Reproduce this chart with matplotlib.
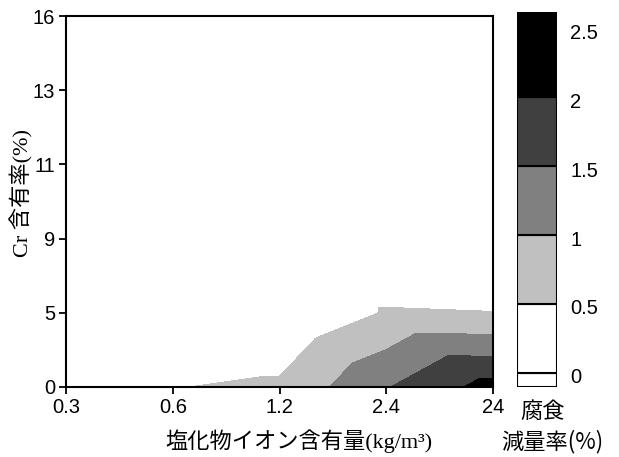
import matplotlib
matplotlib.use('Agg')
import matplotlib.pyplot as plt
import matplotlib.tri as mtri
import matplotlib.transforms as mtransforms
from matplotlib.patches import Rectangle
import numpy as np

# ---- data ----
x_labels = ['0.3', '0.6', '1.2', '2.4', '24']          # chloride content (kg/m3)
y_labels = ['0', '5', '9', '11', '13', '16']           # Cr content (%)
# corrosion weight-loss rate (%) for each Cr row, along chloride categories
z_cr0 = [0.20, 0.485, 0.584, 1.47, 2.20]
z_cr5 = [0.00, 0.00, 0.00, 0.54, 0.51]
z_cr9 = [0.00, 0.00, 0.00, 0.00, 0.00]
z_cr11 = [0.00, 0.00, 0.00, 0.00, 0.00]
z_cr13 = [0.00, 0.00, 0.00, 0.00, 0.00]
z_cr16 = [0.00, 0.00, 0.00, 0.00, 0.00]
levels = [0, 0.5, 1.0, 1.5, 2.0, 2.5]
level_labels = ['0', '0.5', '1', '1.5', '2', '2.5']
band_colors = ['#FFFFFF', '#C0C0C0', '#808080', '#404040', '#000000']

Z = np.array([z_cr0, z_cr5, z_cr9, z_cr11, z_cr13, z_cr16])
ny, nx = Z.shape

# grid triangulation (each cell split along its anti-diagonal)
xs, ys = np.meshgrid(np.arange(nx), np.arange(ny))
xs = xs.ravel().astype(float)
ys = ys.ravel().astype(float)
def idx(i, j):
    return j * nx + i
tris = []
for j in range(ny - 1):
    for i in range(nx - 1):
        tris.append([idx(i, j), idx(i + 1, j), idx(i, j + 1)])
        tris.append([idx(i + 1, j), idx(i + 1, j + 1), idx(i, j + 1)])
tri = mtri.Triangulation(xs, ys, np.array(tris))

fig = plt.figure(figsize=(6.19, 4.57), dpi=100)
W, H = 619, 457
ax = fig.add_axes([66 / W, 1 - 387 / H, (493 - 66) / W, (387 - 16) / H])
ax.tricontourf(tri, Z.ravel(), levels=levels, colors=band_colors, antialiased=False)
ax.set_xlim(0, nx - 1)
ax.set_ylim(0, ny - 1)
ax.set_xticks(np.arange(nx))
ax.set_xticklabels(x_labels)
ax.set_yticks(np.arange(ny))
ax.set_yticklabels(y_labels)
for s in ax.spines.values():
    s.set_linewidth(1.5)
    s.set_zorder(5)
ax.tick_params(direction='out', length=5, width=1.3, labelsize=14.5, pad=3)
for lab in ax.get_xticklabels() + ax.get_yticklabels():
    lab.set_family('Liberation Sans')

# axis labels
fig.text(299 / W, 1 - 441 / H, '塩化物イオン含有量(kg/m³)', ha='center', va='center',
         fontsize=16, family=['Liberation Serif', 'Noto Sans CJK JP'])
fig.text(22 / W, 1 - 193 / H, 'Cr 含有率(%)', ha='center', va='center', rotation=90,
         fontsize=16, family=['Liberation Serif', 'Noto Sans CJK JP'])

# legend bar
cax = fig.add_axes([517 / W, 1 - 387 / H, 40 / W, (387 - 12) / H])
ymin, ymax = -0.104, 2.621
cax.set_xlim(0, 1)
cax.set_ylim(ymin, ymax)
cax.axis('off')
cax.add_patch(Rectangle((0, ymin), 1, 0 - ymin, facecolor='white', edgecolor='black', lw=1.5))
for k in range(len(band_colors)):
    lo = levels[k]
    hi = levels[k + 1] if k < len(band_colors) - 1 else ymax
    cax.add_patch(Rectangle((0, lo), 1, hi - lo, facecolor=band_colors[k],
                            edgecolor='black', lw=1.5))
off = mtransforms.offset_copy(cax.transData, fig=fig, x=0, y=-5, units='dots')
for lv, lb in zip(levels, level_labels):
    cax.text(1.33, lv, lb, transform=off, ha='left', va='center', fontsize=14.5,
             family='Liberation Sans')

fig.text(543 / W, 1 - 411 / H, '腐食', ha='center', va='center', fontsize=16,
         family=['Noto Sans CJK JP'])
fig.text(552 / W, 1 - 442 / H, '減量率(%)', ha='center', va='center', fontsize=16,
         family=['Noto Sans CJK JP'])

fig.savefig('out.png', dpi=100)
